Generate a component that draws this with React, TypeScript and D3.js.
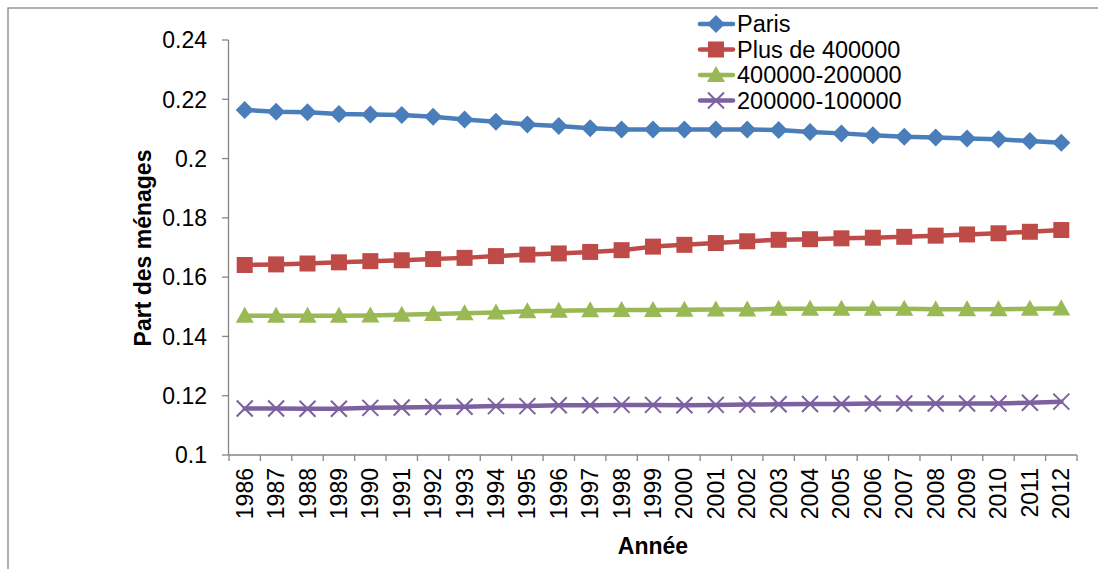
import React from "react";
import * as d3 from "d3";

const years = [
  "1986","1987","1988","1989","1990","1991","1992","1993","1994","1995","1996","1997","1998","1999",
  "2000","2001","2002","2003","2004","2005","2006","2007","2008","2009","2010","2011","2012",
];
const paris = [0.2164,0.2158,0.2156,0.215,0.2149,0.2147,0.2141,0.2132,0.2124,0.2115,0.211,0.2102,0.2098,0.2098,
  0.2098,0.2098,0.2098,0.2096,0.209,0.2085,0.2079,0.2074,0.2071,0.2068,0.2065,0.2059,0.2053];
const plus400 = [0.1641,0.1643,0.1646,0.165,0.1654,0.1657,0.1661,0.1665,0.1671,0.1676,0.168,0.1685,0.1691,0.1703,
  0.1709,0.1715,0.1721,0.1726,0.1728,0.1731,0.1733,0.1736,0.174,0.1744,0.1748,0.1753,0.1759];
const r400_200 = [0.147,0.147,0.147,0.147,0.1471,0.1473,0.1476,0.1478,0.1481,0.1485,0.1487,0.1488,0.1489,0.1489,
  0.149,0.1491,0.1491,0.1493,0.1493,0.1493,0.1493,0.1493,0.1492,0.1492,0.1492,0.1493,0.1494];
const r200_100 = [0.1157,0.1157,0.1156,0.1156,0.1159,0.116,0.1162,0.1163,0.1165,0.1165,0.1168,0.1168,0.1169,0.1169,
  0.1168,0.1169,0.117,0.1171,0.1172,0.1172,0.1174,0.1174,0.1174,0.1174,0.1174,0.1176,0.118];
const yTicks = [0.1, 0.12, 0.14, 0.16, 0.18, 0.2, 0.22, 0.24];
const seriesNames = ["Paris", "Plus de 400000", "400000-200000", "200000-100000"];
const seriesColors = ["#4A7EBB", "#BE4B48", "#98B954", "#7D60A0"];
const seriesMarkers = ["diamond", "square", "triangle", "x"];
const seriesValues = [paris, plus400, r400_200, r200_100];

const FONT = "'Liberation Sans', Arial, sans-serif";
const AXIS = "#868686";

function Marker({ kind, x, y, color }: { kind: string; x: number; y: number; color: string }) {
  if (kind === "diamond") {
    const s = 9;
    return <path d={`M${x},${y - s}L${x + s},${y}L${x},${y + s}L${x - s},${y}Z`} fill={color} />;
  }
  if (kind === "square") {
    const s = 8;
    return <rect x={x - s} y={y - s} width={2 * s} height={2 * s} fill={color} />;
  }
  if (kind === "triangle") {
    return <path d={`M${x},${y - 9}L${x + 9},${y + 7}L${x - 9},${y + 7}Z`} fill={color} />;
  }
  const s = 8;
  return (
    <path d={`M${x - s},${y - s}L${x + s},${y + s}M${x + s},${y - s}L${x - s},${y + s}`} stroke={color} strokeWidth={2} fill="none" />
  );
}

export default function App() {
  const x = d3.scaleBand<string>().domain(years).range([229, 1077]);
  const y = d3.scaleLinear().domain([0.1, 0.24]).range([455, 40]);
  const cx = (d: string) => (x(d) as number) + x.bandwidth() / 2;
  const line = d3.line<number>().x((_, i) => cx(years[i])).y((v) => y(v));
  const fmt = (t: number) => String(+t.toFixed(2));

  return (
    <svg width={1098} height={569} style={{ position: "absolute", left: 0, top: 0 }} fontFamily={FONT}>
      <rect x={0} y={0} width={1098} height={569} fill="#fff" />
      <rect x={8} y={8} width={1200} height={700} fill="none" stroke={AXIS} strokeWidth={1.3} />

      {/* y axis */}
      <line x1={228.5} x2={228.5} y1={y(0.24)} y2={y(0.1)} stroke={AXIS} strokeWidth={1.3} />
      {yTicks.map((t) => (
        <g key={t}>
          <line x1={222} x2={228.5} y1={y(t)} y2={y(t)} stroke={AXIS} strokeWidth={1.3} />
          <text x={207} y={y(t)} dy="0.36em" textAnchor="end" fontSize={23} fill="#000">
            {fmt(t)}
          </text>
        </g>
      ))}

      {/* x axis */}
      <line x1={228.5} x2={1077} y1={455} y2={455} stroke={AXIS} strokeWidth={1.3} />
      {years.map((d) => (
        <line key={"t" + d} x1={x(d) as number} x2={x(d) as number} y1={455} y2={461} stroke={AXIS} strokeWidth={1.3} />
      ))}
      <line x1={1077} x2={1077} y1={455} y2={461} stroke={AXIS} strokeWidth={1.3} />
      {years.map((d) => (
        <text key={"l" + d} transform={`translate(${cx(d)},468) rotate(-90)`} textAnchor="end" dominantBaseline="central" fontSize={23} fill="#000">
          {d}
        </text>
      ))}

      <text x={653} y={546} textAnchor="middle" fontSize={23} fontWeight="bold" dominantBaseline="central">Année</text>
      <text transform={`translate(143,248) rotate(-90)`} textAnchor="middle" dominantBaseline="central" fontSize={23} fontWeight="bold">
        Part des ménages
      </text>

      {/* series */}
      {seriesValues.map((vals, si) => (
        <g key={"s" + si}>
          <path d={line(vals) as string} fill="none" stroke={seriesColors[si]} strokeWidth={4.5} strokeLinejoin="round" strokeLinecap="round" />
          {vals.map((v, i) => (
            <Marker key={i} kind={seriesMarkers[si]} x={cx(years[i])} y={y(v)} color={seriesColors[si]} />
          ))}
        </g>
      ))}

      {/* legend */}
      {seriesNames.map((n, i) => {
        const ly = 24 + i * 25.5;
        return (
          <g key={"lg" + i}>
            <line x1={700} x2={733} y1={ly} y2={ly} stroke={seriesColors[i]} strokeWidth={4.5} strokeLinecap="round" />
            <Marker kind={seriesMarkers[i]} x={716} y={ly} color={seriesColors[i]} />
            <text x={737} y={ly} dy="0.36em" fontSize={23.5} fill="#000">{n}</text>
          </g>
        );
      })}
    </svg>
  );
}
